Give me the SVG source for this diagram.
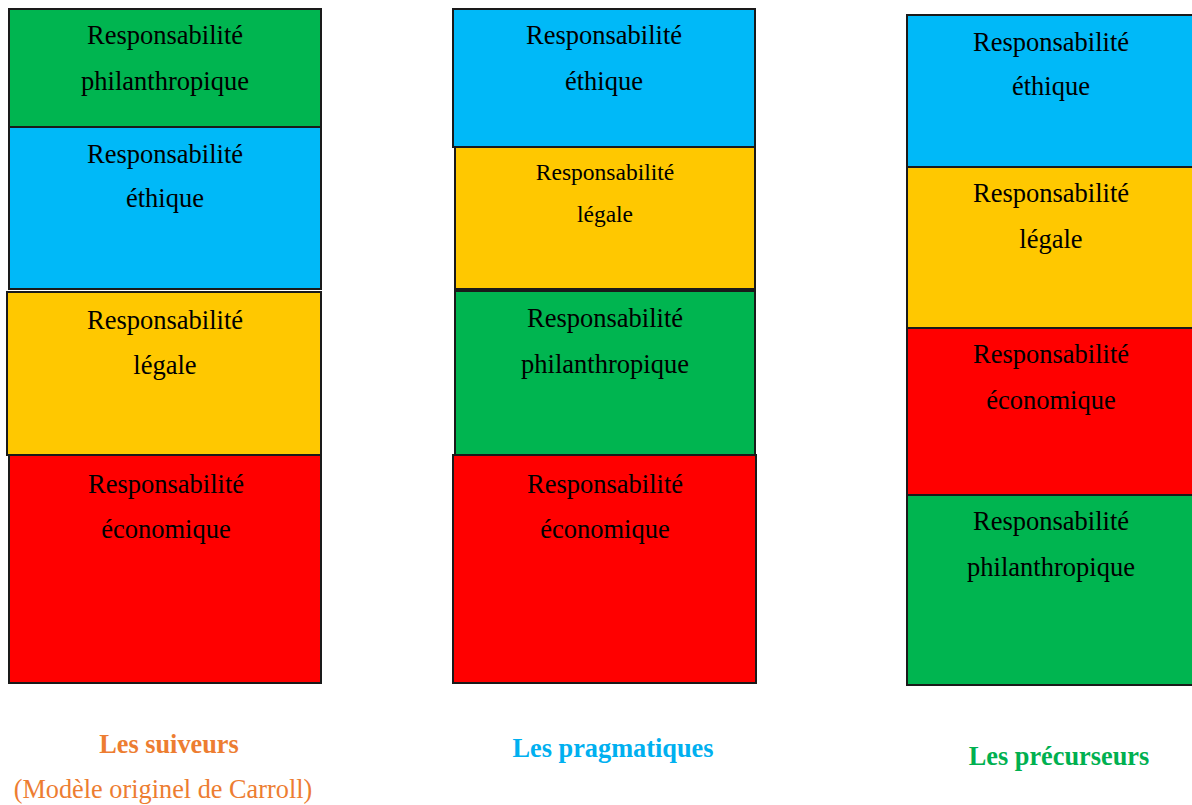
<svg xmlns="http://www.w3.org/2000/svg" width="1192" height="805" viewBox="0 0 1192 805">
<style>
.box{stroke:#1a1a1a;stroke-width:2}
.g{fill:#00B550}.b{fill:#00B9F8}.y{fill:#FFC800}.r{fill:#FF0000}
.t{font-family:"Liberation Serif","Times New Roman",serif;font-size:26.5px;fill:#000;text-anchor:middle}
.ts{font-size:23.5px}
.lab{font-family:"Liberation Serif","Times New Roman",serif;font-size:26.3px;text-anchor:middle}
.bold{font-weight:bold}
</style>
<rect width="1192" height="805" fill="#fff"/>
<!-- Column 1 -->
<g id="c1-philanthropique"><rect class="box g" x="9" y="9" width="312" height="118"/><text class="t" x="165" y="44">Responsabilité</text><text class="t" x="165" y="90">philanthropique</text></g>
<g id="c1-ethique"><rect class="box b" x="9" y="127" width="312" height="162"/><text class="t" x="165" y="163">Responsabilité</text><text class="t" x="165" y="207">éthique</text></g>
<g id="c1-legale"><rect class="box y" x="7" y="292" width="314" height="163"/><text class="t" x="165" y="329">Responsabilité</text><text class="t" x="165" y="374">légale</text></g>
<g id="c1-economique"><rect class="box r" x="9" y="455" width="312" height="228"/><text class="t" x="166" y="493">Responsabilité</text><text class="t" x="166" y="538">économique</text></g>
<!-- Column 2 -->
<g id="c2-ethique"><rect class="box b" x="453" y="9" width="302" height="138"/><text class="t" x="604" y="44">Responsabilité</text><text class="t" x="604" y="90">éthique</text></g>
<g id="c2-legale"><rect class="box y" x="455" y="147" width="300" height="142"/><text class="t ts" x="605" y="180">Responsabilité</text><text class="t ts" x="605" y="222">légale</text></g>
<g id="c2-philanthropique"><rect class="box g" x="455" y="291" width="300" height="164"/><text class="t" x="605" y="327">Responsabilité</text><text class="t" x="605" y="373">philanthropique</text></g>
<g id="c2-economique"><rect class="box r" x="453" y="455" width="303" height="228"/><text class="t" x="605" y="493">Responsabilité</text><text class="t" x="605" y="538">économique</text></g>
<!-- Column 3 -->
<g id="c3-ethique"><rect class="box b" x="907" y="15" width="290" height="152"/><text class="t" x="1051" y="51">Responsabilité</text><text class="t" x="1051" y="95">éthique</text></g>
<g id="c3-legale"><rect class="box y" x="907" y="167" width="290" height="161"/><text class="t" x="1051" y="202">Responsabilité</text><text class="t" x="1051" y="248">légale</text></g>
<g id="c3-economique"><rect class="box r" x="907" y="328" width="290" height="167"/><text class="t" x="1051" y="363">Responsabilité</text><text class="t" x="1051" y="409">économique</text></g>
<g id="c3-philanthropique"><rect class="box g" x="907" y="495" width="290" height="190"/><text class="t" x="1051" y="530">Responsabilité</text><text class="t" x="1051" y="576">philanthropique</text></g>
<!-- Labels -->
<g id="label-suiveurs"><text class="lab bold" x="169" y="753" fill="#ED7D31">Les suiveurs</text><text class="lab" x="163" y="798" fill="#ED7D31">(Modèle originel de Carroll)</text></g>
<g id="label-pragmatiques"><text class="lab bold" x="613" y="757" fill="#00B0F0">Les pragmatiques</text></g>
<g id="label-precurseurs"><text class="lab bold" x="1059" y="765" fill="#00B050">Les précurseurs</text></g>
</svg>
